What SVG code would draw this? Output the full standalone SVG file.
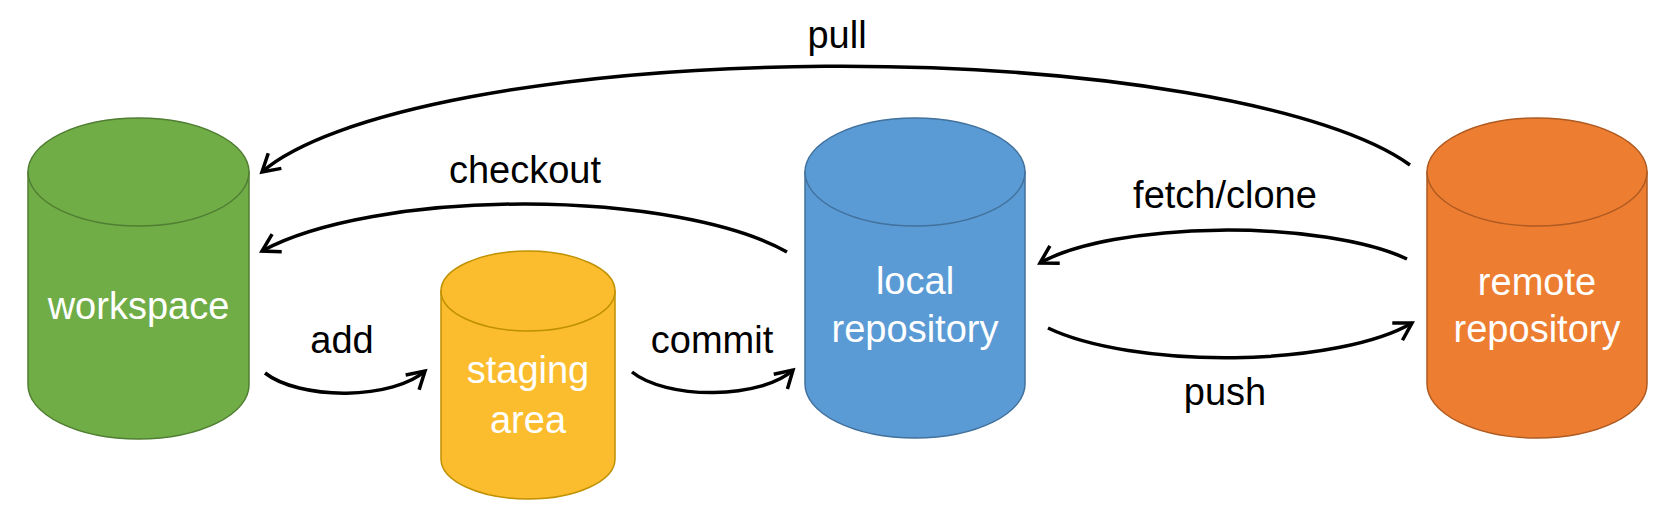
<svg xmlns="http://www.w3.org/2000/svg" width="1676" height="518" viewBox="0 0 1676 518">
<style>
.node-text{font-family:"Liberation Sans",Arial,sans-serif;font-size:38px;fill:#ffffff;text-anchor:middle}
.label{font-family:"Liberation Sans",Arial,sans-serif;font-size:38px;fill:#000000;text-anchor:middle}
.conn{fill:none;stroke:#000000;stroke-width:3.5}
.green{fill:#70ad47;stroke:#507e32;stroke-width:1.5}
.gold{fill:#fbbd2e;stroke:#bf9000;stroke-width:1.5}
.blue{fill:#5b9bd5;stroke:#41719c;stroke-width:1.5}
.orange{fill:#ed7d31;stroke:#ae5a21;stroke-width:1.5}
</style>
<defs>
<marker id="arrow" markerUnits="userSpaceOnUse" markerWidth="30" markerHeight="30" refX="0" refY="0" orient="auto" overflow="visible">
<path d="M-17,-10 L0,0 L-17,10" fill="none" stroke="#000000" stroke-width="3.5" stroke-linejoin="miter"/>
</marker>
</defs>
<rect width="1676" height="518" fill="#ffffff"/>
<g id="workspace">
<path class="green" d="M28,172 L28,385 A110.5,54 0 0 0 249,385 L249,172 Z"/>
<ellipse class="green" cx="138.5" cy="172" rx="110.5" ry="54"/>
<text class="node-text" x="138.5" y="319">workspace</text>
</g>
<g id="staging-area">
<path class="gold" d="M441,291 L441,459 A87,40 0 0 0 615,459 L615,291 Z"/>
<ellipse class="gold" cx="528" cy="291" rx="87" ry="40"/>
<text class="node-text" x="528" y="383">staging</text>
<text class="node-text" x="528" y="433">area</text>
</g>
<g id="local-repository">
<path class="blue" d="M805,172 L805,384 A110,54 0 0 0 1025,384 L1025,172 Z"/>
<ellipse class="blue" cx="915" cy="172" rx="110" ry="54"/>
<text class="node-text" x="915" y="294">local</text>
<text class="node-text" x="915" y="342">repository</text>
</g>
<g id="remote-repository">
<path class="orange" d="M1427,172 L1427,384 A110,54 0 0 0 1647,384 L1647,172 Z"/>
<ellipse class="orange" cx="1537" cy="172" rx="110" ry="54"/>
<text class="node-text" x="1537" y="295">remote</text>
<text class="node-text" x="1537" y="342">repository</text>
</g>
<g id="connectors">
<path class="conn" marker-end="url(#arrow)" d="M1410,165 A600,144 0 0 0 262,172"/>
<path class="conn" marker-end="url(#arrow)" d="M787,252 A300,92 0 0 0 262,251"/>
<path class="conn" marker-end="url(#arrow)" d="M265,373 A90,39 0 0 0 425,371"/>
<path class="conn" marker-end="url(#arrow)" d="M632,372 A90,39 0 0 0 793,370"/>
<path class="conn" marker-end="url(#arrow)" d="M1407,259 A210,60 0 0 0 1040,263"/>
<path class="conn" marker-end="url(#arrow)" d="M1048,328 A210,64 0 0 0 1412,323"/>
<text class="label" x="837" y="48">pull</text>
<text class="label" x="525" y="183">checkout</text>
<text class="label" x="342" y="353">add</text>
<text class="label" x="712" y="353">commit</text>
<text class="label" x="1225" y="208">fetch/clone</text>
<text class="label" x="1225" y="405">push</text>
</g>
</svg>
